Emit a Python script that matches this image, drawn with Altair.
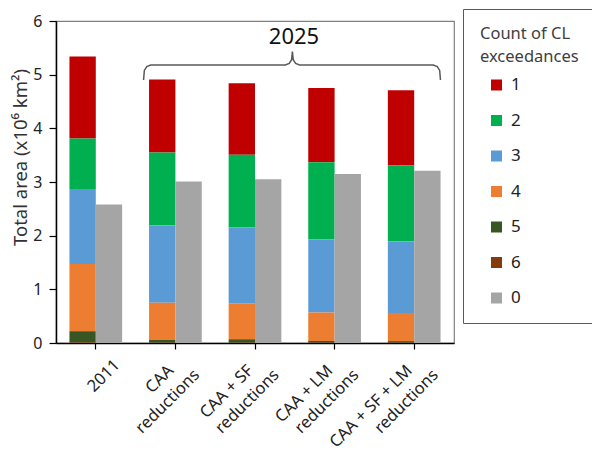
import altair as alt
import pandas as pd

# ---- data ----
groups = ["2011", "CAA reductions", "CAA + SF reductions", "CAA + LM reductions", "CAA + SF + LM reductions"]
label_line1 = ["2011", "CAA", "CAA + SF", "CAA + LM", "CAA + SF + LM"]
label_line2 = ["", "reductions", "reductions", "reductions", "reductions"]

categories = ["1", "2", "3", "4", "5", "6", "0"]
colors = ["#C00000", "#00B050", "#5B9BD5", "#ED7D31", "#375623", "#843C0C", "#A5A5A5"]

area_1 = [1.53, 1.36, 1.33, 1.38, 1.40]
area_2 = [0.94, 1.36, 1.36, 1.44, 1.42]
area_3 = [1.40, 1.44, 1.41, 1.36, 1.33]
area_4 = [1.25, 0.69, 0.67, 0.535, 0.525]
area_5 = [0.21, 0.055, 0.065, 0.03, 0.03]
area_6 = [0.01, 0.005, 0.005, 0.005, 0.005]
area_0 = [2.58, 3.01, 3.05, 3.15, 3.21]

# brace annotation over the 2025 scenarios (x in group-step units, y in data units)
brace_x = [1.10, 1.11, 1.14, 1.19, 2.88, 2.93, 2.96, 2.97, 2.98, 3.01, 3.06, 4.74, 4.79, 4.82, 4.83]
brace_y = [4.90, 5.08, 5.15, 5.18, 5.18, 5.21, 5.28, 5.43, 5.28, 5.21, 5.18, 5.18, 5.15, 5.08, 4.90]
brace_label = "2025"
brace_label_x = 2.99
brace_label_y = 5.70

# ---- build tables ----
series = {"1": area_1, "2": area_2, "3": area_3, "4": area_4, "5": area_5, "6": area_6, "0": area_0}
stack_order = {"6": 0, "5": 1, "4": 2, "3": 3, "2": 4, "1": 5, "0": 0}
rows = []
for gi, g in enumerate(groups):
    for c in categories:
        rows.append({"group": g, "cat": c, "value": series[c][gi],
                     "sub": "b" if c == "0" else "a", "ord": stack_order[c]})
df = pd.DataFrame(rows)

lab_df = pd.DataFrame({"group": groups, "line1": label_line1, "line2": label_line2})
brace_df = pd.DataFrame({"bx": brace_x, "by": brace_y, "i": list(range(len(brace_x)))})
brace_txt = pd.DataFrame({"tx": [brace_label_x], "ty": [brace_label_y], "t": [brace_label]})

W, H = 398, 322
FONT = "Noto Sans"

x_enc = alt.X("group:N", sort=groups,
              scale=alt.Scale(paddingInner=0.338, paddingOuter=0.169),
              axis=alt.Axis(title=None, labels=False, ticks=True, tickSize=6,
                            tickColor="black", tickWidth=1.2,
                            domainColor="black", domainWidth=1.5))
y_axis = alt.Axis(values=[0, 1, 2, 3, 4, 5, 6], title="Total area (x10⁶ km²)",
                  grid=False, tickSize=7, tickColor="black", tickWidth=1.2,
                  domainColor="black", domainWidth=1.5,
                  labelFontSize=16, labelColor="#222222", labelPadding=7,
                  titleFontSize=18.5, titleFontWeight="normal", titleColor="#333333",
                  titleX=-36, titleY=136, titleAlign="center", titleBaseline="middle")
y_scale = alt.Scale(domain=[0, 6], nice=False, zero=True)

bars = alt.Chart(df).transform_stack(
    stack="value", groupby=["group", "sub"], as_=["y0", "y1"],
    sort=[alt.SortField("ord", order="ascending")]
).mark_bar().encode(
    x=x_enc,
    xOffset=alt.XOffset("sub:N", scale=alt.Scale(paddingInner=0, paddingOuter=0)),
    y=alt.Y("y0:Q", scale=y_scale, axis=y_axis),
    y2="y1:Q",
    color=alt.Color("cat:N", scale=alt.Scale(domain=categories, range=colors),
                    legend=alt.Legend(title=["Count of CL", "exceedances"],
                                      orient="none", legendX=407, legendY=-12,
                                      direction="vertical",
                                      symbolType="square", symbolSize=121,
                                      symbolStrokeWidth=0, symbolOffset=8,
                                      labelOffset=6, labelFontSize=17,
                                      labelColor="#222222",
                                      titleFontSize=16.5, titleFontWeight="normal",
                                      titleColor="#404040", titleLineHeight=23,
                                      titlePadding=11, rowPadding=17.5,
                                      padding=17, strokeColor="#595959",
                                      fillColor="white")),
)

label_common = dict(angle=315, align="right", baseline="top", fontSize=16.5,
                    font=FONT, color="#222222")
lab1 = alt.Chart(lab_df).transform_filter("datum.line2 != ''").mark_text(
    dx=-21, dy=6.5, **label_common).encode(x=x_enc, y=alt.value(H), text="line1:N")
lab2 = alt.Chart(lab_df).transform_filter("datum.line2 != ''").mark_text(
    dx=-5.7, dy=28, **label_common).encode(x=x_enc, y=alt.value(H), text="line2:N")
lab0 = alt.Chart(lab_df).transform_filter("datum.line2 == ''").mark_text(
    dx=1.3, dy=21, **label_common).encode(x=x_enc, y=alt.value(H), text="line1:N")

main = alt.layer(bars, lab1, lab2, lab0)

bx_scale = alt.Scale(domain=[0, 5], nice=False, zero=False)
brace_line = alt.Chart(brace_df).mark_line(color="#595959", strokeWidth=1.5).encode(
    x=alt.X("bx:Q", scale=bx_scale, axis=None),
    y=alt.Y("by:Q", scale=y_scale, axis=y_axis),
    order="i:Q",
)
brace_text = alt.Chart(brace_txt).mark_text(fontSize=22, font=FONT, color="#111111").encode(
    x=alt.X("tx:Q", scale=bx_scale, axis=None),
    y=alt.Y("ty:Q", scale=y_scale, axis=y_axis),
    text="t:N",
)
brace = alt.layer(brace_line, brace_text)

chart = alt.layer(main, brace).resolve_scale(x="independent").properties(
    width=W, height=H,
    autosize=alt.AutoSizeParams(type="none"),
    padding={"left": 48, "top": 13, "right": 138, "bottom": 112},
).configure(font=FONT).configure_view(stroke="#808080", strokeWidth=1.2)

chart.save("out.html", embed_options={"renderer": "svg", "actions": False})
